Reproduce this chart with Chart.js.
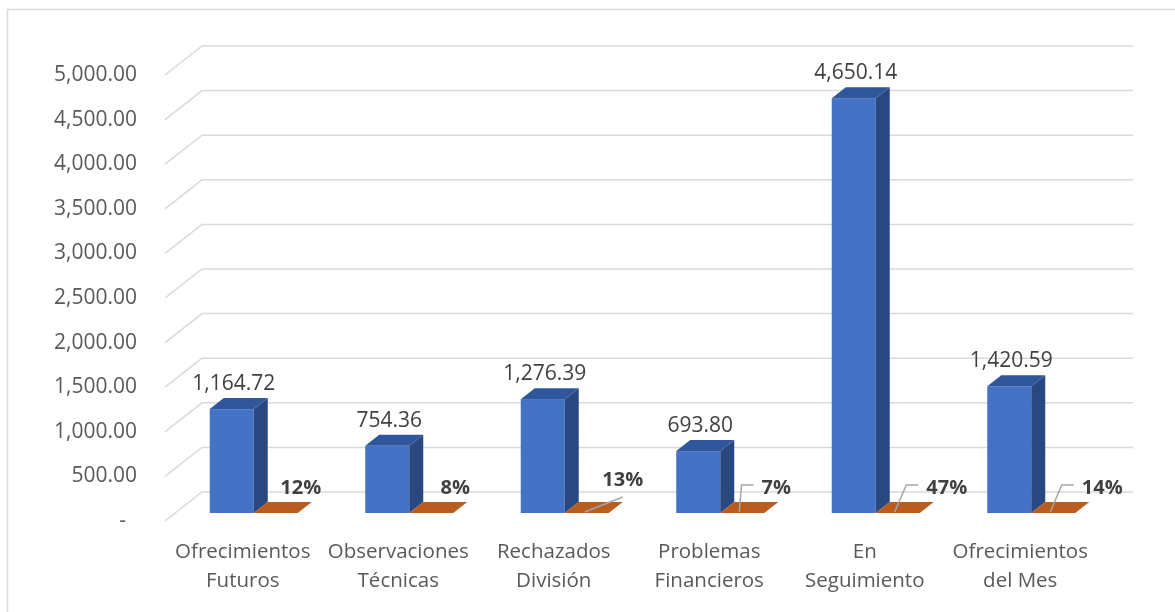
<!DOCTYPE html>
<html>
<head>
<meta charset="utf-8">
<script src="https://cdn.jsdelivr.net/npm/chart.js@4.4.0/dist/chart.umd.min.js"></script>
<style>
  html, body { margin: 0; padding: 0; background: #fff; }
  #wrap { width: 1175px; height: 612px; position: relative; }
</style>
</head>
<body>
<div id="wrap"><canvas id="chart"></canvas></div>
<script>
/* --------------- Data --------------- */
var categories = [
  ["Ofrecimientos", "Futuros"],
  ["Observaciones", "Técnicas"],
  ["Rechazados", "División"],
  ["Problemas", "Financieros"],
  ["En", "Seguimiento"],
  ["Ofrecimientos", "del Mes"]
];
var montos = [1164.72, 754.36, 1276.39, 693.80, 4650.14, 1420.59];
var porcentajes = [0.12, 0.08, 0.13, 0.07, 0.47, 0.14];
var yMin = 0, yMax = 5000, yStep = 500;

/* --------------- Layout of the fake 3D --------------- */
var SHIFT = { x: 11, y: -8 };    // bars sit this far back from the front plane
var DEPTH = { x: 14, y: -11 };   // depth of each bar
var WALL = { x: 37, y: -29 };    // back wall offset
// where each % label was dragged to (relative to the orange bar)
var pctNudge = [[25, -25], [24, -25], [36, -33], [34, -25], [49, -25], [49, -25]];

var blue = { front: "#4472C4", side: "#2A4880", top: "#30569B" };
var orange = { front: "#B65B1E", top: "#B85C1F" };

function fmt(v) {
  if (v === 0) return "-  ";
  return v.toLocaleString("en-US", { minimumFractionDigits: 2, maximumFractionDigits: 2 });
}

var fake3d = {
  id: "fake3d",
  beforeDatasetsDraw: function (chart) {
    var ctx = chart.ctx, y = chart.scales.y, a = chart.chartArea;
    ctx.save();
    ctx.strokeStyle = "#D9D9D9";
    ctx.lineWidth = 1.5;
    y.ticks.forEach(function (t) {
      var py = y.getPixelForValue(t.value);
      ctx.beginPath();
      ctx.moveTo(a.left, py);
      ctx.lineTo(a.left + WALL.x, py + WALL.y);
      ctx.lineTo(a.right + WALL.x - 2, py + WALL.y);
      ctx.stroke();
    });
    ctx.restore();
  },
  afterDatasetsDraw: function (chart) {
    var ctx = chart.ctx;
    var m0 = chart.getDatasetMeta(0).data;
    var m1 = chart.getDatasetMeta(1).data;
    ctx.save();
    for (var i = 0; i < m0.length; i++) {
      // blue column
      var b = m0[i];
      var l = b.x - b.width / 2 + SHIFT.x, r = l + b.width;
      var t = b.y + SHIFT.y, bt = b.base + SHIFT.y;
      ctx.fillStyle = blue.front;
      ctx.fillRect(l, t, r - l, bt - t);
      ctx.fillStyle = blue.side;
      ctx.beginPath();
      ctx.moveTo(r, t); ctx.lineTo(r + DEPTH.x, t + DEPTH.y);
      ctx.lineTo(r + DEPTH.x, bt + DEPTH.y); ctx.lineTo(r, bt);
      ctx.closePath(); ctx.fill();
      ctx.fillStyle = blue.top;
      ctx.beginPath();
      ctx.moveTo(l, t); ctx.lineTo(l + DEPTH.x, t + DEPTH.y);
      ctx.lineTo(r + DEPTH.x, t + DEPTH.y); ctx.lineTo(r, t);
      ctx.closePath(); ctx.fill();

      // orange (flat) column
      var o = m1[i];
      var ol = o.x - o.width / 2 + SHIFT.x, or = ol + o.width;
      var ot = o.y + SHIFT.y, ob = o.base + SHIFT.y;
      if (ob - ot > 0.5) {
        ctx.fillStyle = orange.front;
        ctx.fillRect(ol, ot, or - ol, ob - ot);
      }
      ctx.fillStyle = orange.top;
      ctx.beginPath();
      ctx.moveTo(ol, ot); ctx.lineTo(or, ot);
      ctx.lineTo(or + DEPTH.x, ot + DEPTH.y); ctx.lineTo(ol + DEPTH.x, ot + DEPTH.y);
      ctx.closePath(); ctx.fill();

      // value label
      ctx.fillStyle = "#404040";
      ctx.font = "21px 'Open Sans'";
      ctx.textAlign = "center";
      ctx.textBaseline = "middle";
      ctx.fillText(fmt(montos[i]), (l + r) / 2 + 2, t - 25);

      // percent label + leader line
      var cx = (ol + or) / 2;
      var lx = cx + pctNudge[i][0], ly = ob + pctNudge[i][1];
      var txt = Math.round(porcentajes[i] * 100) + "%";
      ctx.font = "bold 20px 'Open Sans'";
      var tw = ctx.measureText(txt).width;
      ctx.fillText(txt, lx, ly);
      ctx.strokeStyle = "#A6A6A6";
      ctx.lineWidth = 1.5;
      if (pctNudge[i][1] < -30) {
        ctx.beginPath();
        ctx.moveTo(cx - 2, ob - 1);
        ctx.lineTo(lx, ly + 17);
        ctx.stroke();
      } else if (pctNudge[i][0] > 30) {
        var left = lx - tw / 2;
        ctx.beginPath();
        ctx.moveTo(cx - 3, ob - 1);
        ctx.lineTo(left - 20, ly - 3);
        ctx.lineTo(left - 8, ly - 3);
        ctx.stroke();
      }
    }
    ctx.restore();
  },
  afterDraw: function (chart) {
    var ctx = chart.ctx;
    ctx.save();
    ctx.strokeStyle = "#D9D9D9";
    ctx.lineWidth = 1.5;
    ctx.strokeRect(7.5, 9.5, 1200, 700);
    ctx.restore();
  }
};

new Chart(document.getElementById("chart"), {
  type: "bar",
  plugins: [fake3d],
  data: {
    labels: categories,
    datasets: [
      { data: montos, backgroundColor: "rgba(0,0,0,0)", borderWidth: 0 },
      { data: porcentajes, backgroundColor: "rgba(0,0,0,0)", borderWidth: 0 }
    ]
  },
  options: {
    responsive: true,
    maintainAspectRatio: false,
    animation: false,
    layout: { padding: { left: 0, right: 77, top: 75, bottom: 0 } },
    datasets: { bar: { categoryPercentage: 0.566, barPercentage: 1 } },
    plugins: { legend: { display: false }, tooltip: { enabled: false } },
    scales: {
      x: {
        grid: { display: false, drawTicks: false },
        border: { display: false },
        ticks: {
          color: "#595959",
          font: { family: "'Open Sans'", size: 20.5, lineHeight: "29px" },
          padding: 17,
          maxRotation: 0,
          autoSkip: false
        },
        afterFit: function (s) { s.height = 91; }
      },
      y: {
        min: yMin,
        max: yMax,
        grid: { display: false, drawTicks: false },
        border: { display: false },
        ticks: {
          stepSize: yStep,
          color: "#595959",
          font: { family: "'Open Sans'", size: 21 },
          padding: 28,
          callback: function (v) { return fmt(v); }
        },
        afterFit: function (s) { s.width = 165; }
      }
    }
  }
});
</script>
</body>
</html>
